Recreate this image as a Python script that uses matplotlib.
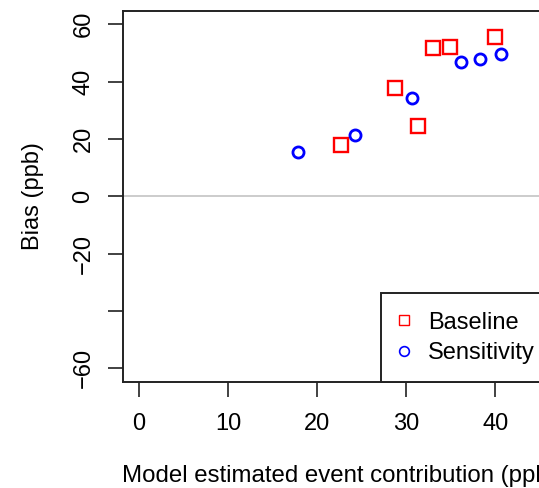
import matplotlib
matplotlib.use("Agg")
import matplotlib.pyplot as plt
from matplotlib.lines import Line2D

plt.rcParams['font.family'] = ['Liberation Sans', 'DejaVu Sans']

# Data
baseline_x = [22.7, 28.7, 31.3, 33.0, 34.9, 40.0]
baseline_y = [17.8, 37.8, 24.6, 51.7, 52.1, 55.7]
sensitivity_x = [17.8, 24.2, 30.6, 36.1, 38.3, 40.6]
sensitivity_y = [15.3, 21.5, 34.3, 46.7, 47.9, 49.6]

x_ticks = [0, 10, 20, 30, 40]
y_ticks = [60, 40, 20, 0, -20, -40, -60]
y_tick_labels = ["60", "40", "20", "0", "\u221220", "", "\u221260"]
series_labels = ["Baseline", "Sensitivity"]
x_label = "Model estimated event contribution (ppb)"
y_label = "Bias (ppb)"

W, H = 539, 488
fig = plt.figure(figsize=(W / 100, H / 100), dpi=100)
ax = fig.add_axes([123 / W, 1 - 382 / H, 433 / W, 371.5 / H])

ax.axhline(0, color='#c8c8c8', lw=1.3, zorder=1)

ax.plot(baseline_x, baseline_y, ls='none', marker='s', ms=9.5, mfc='none',
        mec='#ff0000', mew=1.7, zorder=3)
ax.plot(sensitivity_x, sensitivity_y, ls='none', marker='o', ms=8, mfc='none',
        mec='#0000ff', mew=2.0, zorder=3)

ax.set_xlim(-1.8, 46.8)
ax.set_ylim(-64.8, 64.8)
ax.set_xticks(x_ticks)
ax.set_xticklabels([str(v) for v in x_ticks])
ax.set_yticks(y_ticks)
ax.set_yticklabels(y_tick_labels, rotation=90, va='center')

for s in ax.spines.values():
    s.set_linewidth(1.4)
    s.set_color('#222222')

ax.tick_params(axis='both', direction='out', length=10.5, width=1.3,
               color='#333333', labelsize=17, labelcolor='black')
ax.tick_params(axis='x', pad=12)
ax.tick_params(axis='y', pad=10)

ax.set_xlabel(x_label, fontsize=17.3, va='center')
ax.xaxis.set_label_coords(0.5, -0.253)
ax.set_ylabel(y_label, fontsize=17, va='center')
ax.yaxis.set_label_coords(-0.207, 0.5)

handles = [
    Line2D([], [], ls='none', marker='s', ms=7, mfc='none', mec='#ff0000', mew=1.0),
    Line2D([], [], ls='none', marker='o', ms=7, mfc='none', mec='#0000ff', mew=1.2),
]
leg_x0 = (381 - 123) / 433
leg = ax.legend(handles, series_labels, loc='lower left',
                bbox_to_anchor=(leg_x0, 0, 1 - leg_x0, 0.3), mode='expand',
                fontsize=17, frameon=True, fancybox=False, borderaxespad=0,
                borderpad=0.77, labelspacing=0.35, handlelength=0.45,
                handletextpad=0.78)
frame = leg.get_frame()
frame.set_edgecolor('#222222')
frame.set_linewidth(1.4)
frame.set_facecolor('white')
frame.set_alpha(1)

fig.savefig("out.png", dpi=100)
